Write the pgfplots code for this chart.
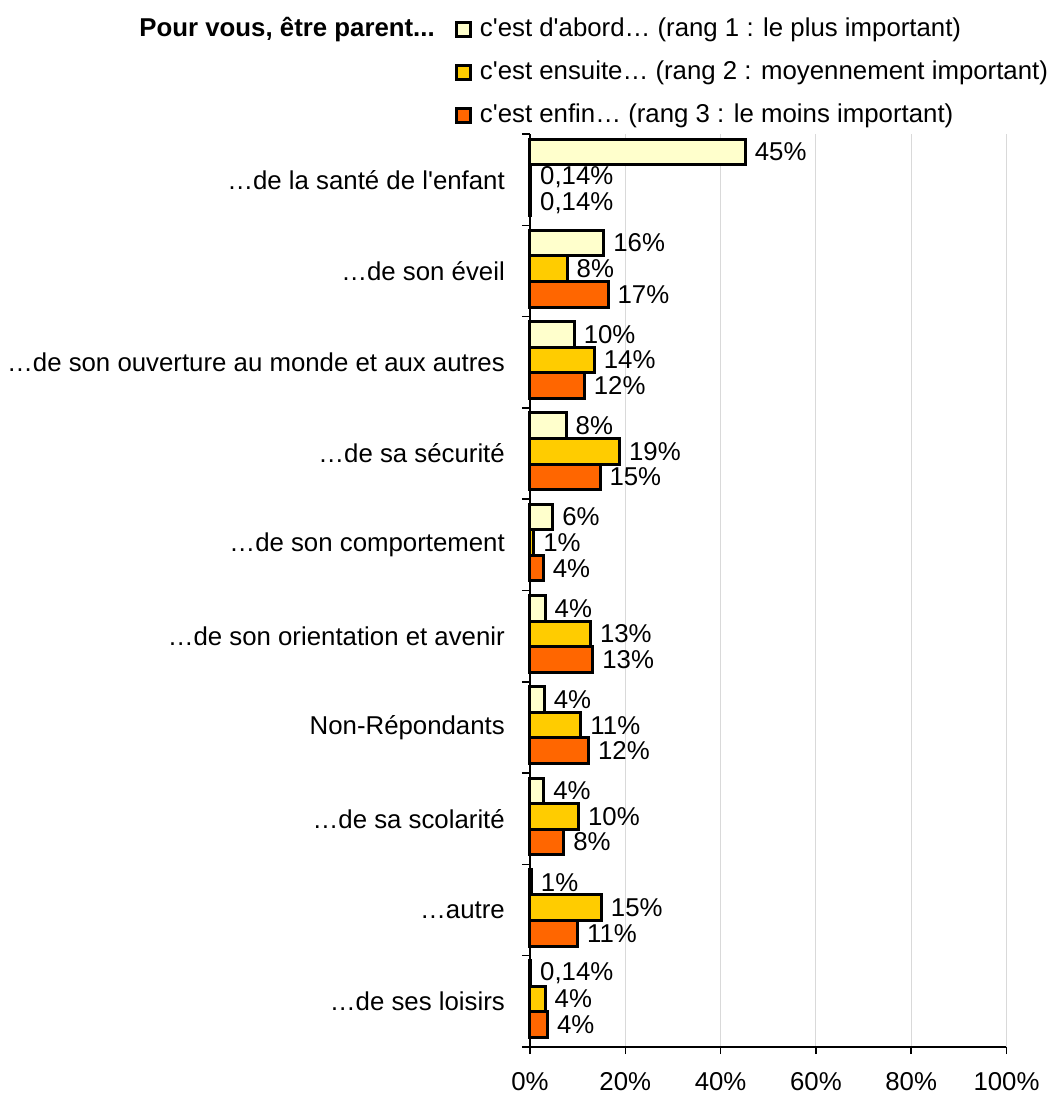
\documentclass[border=0pt]{standalone}
\usepackage{pgfplots}
\pgfplotsset{compat=1.18}
\usepackage{pgfplotstable}
\usepackage{fontspec}
\setmainfont{Liberation Sans}

\definecolor{rangA}{HTML}{FFFFCC}
\definecolor{rangB}{HTML}{FFCC00}
\definecolor{rangC}{HTML}{FF6600}
\definecolor{gridgray}{HTML}{D9D9D9}

% y = 9 for the top category, 0 for the bottom one
\pgfplotstableread{
x y lab
45.2 9 45
15.5 8 16
9.3 7 10
7.6 6 8
4.8 5 6
3.2 4 4
3.0 3 4
2.9 2 4
0.3 1 1
0.14 0 0,14
}\rangA

\pgfplotstableread{
x y lab
0.14 9 0,14
7.8 8 8
13.5 7 14
18.8 6 19
0.8 5 1
12.7 4 13
10.7 3 11
10.2 2 10
15.0 1 15
3.2 0 4
}\rangB

\pgfplotstableread{
x y lab
0.14 9 0,14
16.4 8 17
11.4 7 12
14.7 6 15
2.8 5 4
13.2 4 13
12.3 3 12
7.1 2 8
10.0 1 11
3.7 0 4
}\rangC

\newcommand\q{\textquotesingle}
\newcommand\fs{\fontsize{25.8}{31}\selectfont}

\begin{document}
\fs
\begin{tikzpicture}
\path[use as bounding box] (-530pt,-48pt) rectangle (523pt,1047pt);
\begin{axis}[
    at={(0,0)}, anchor=south west,
    scale only axis,
    width=476.5pt, height=913pt,
    xbar, bar width=0.28,
    xmin=0, xmax=100,
    ymin=-0.5, ymax=9.5,
    axis x line*=bottom, axis y line*=left,
    axis line style={line width=1.8pt, -},
    xtick={0,20,40,60,80,100},
    xticklabels={0\%,20\%,40\%,60\%,80\%,100\%},
    x tick style={line width=1.5pt, black},
    major tick length=7pt,
    tick align=outside,
    xmajorgrids=true,
    grid style={gridgray, line width=0.8pt},
    xticklabel style={font=\fs, yshift=-10pt},
    ytick={9,8,7,6,5,4,3,2,1,0},
    yticklabels={…de la santé de l\q enfant, …de son éveil,
        …de son ouverture au monde et aux autres, …de sa sécurité,
        …de son comportement, …de son orientation et avenir,
        Non-Répondants\ , …de sa scolarité, …autre, …de ses loisirs},
    y tick style={draw=none},
    yticklabel style={font=\fs, inner sep=0pt, xshift=-18pt},
    extra y ticks={-0.5,0.5,1.5,2.5,3.5,4.5,5.5,6.5,7.5,8.5,9.5},
    extra y tick labels={},
    extra y tick style={y tick style={draw=black, line width=1.5pt}, major tick length=8pt},
    point meta=explicit symbolic,
    nodes near coords={\pgfplotspointmeta\%},
    nodes near coords style={font=\fs, anchor=west, inner sep=0pt, xshift=8pt, black},
    every axis plot/.append style={draw=black, line width=3pt},
    legend image code/.code={\draw[#1, line width=3pt] (0pt,-6pt) rectangle (14pt,8pt);},
    legend style={draw=none, fill=none, inner sep=0pt, outer sep=0pt,
        at={(axis description cs:-0.1574,1.1257)}, anchor=north west,
        font=\fs, row sep=21pt,
        nodes={inner sep=0pt, text height=17pt, text depth=5pt},
        /tikz/every odd column/.style={column sep=8pt}},
    legend cell align=left,
    clip=false,
]
\addplot[fill=rangA, bar shift=0.305] table[x=x, y=y, meta=lab] {\rangA};
\addlegendentry{c\q est d\q abord… (rang 1 : le plus important)}
\addplot[fill=rangB, bar shift=0.025] table[x=x, y=y, meta=lab] {\rangB};
\addlegendentry{c\q est ensuite… (rang 2 : moyennement important)}
\addplot[fill=rangC, bar shift=-0.255] table[x=x, y=y, meta=lab] {\rangC};
\addlegendentry{c\q est enfin… (rang 3 : le moins important)}
\node[anchor=base east, inner sep=0pt, font=\fs\bfseries]
    at (axis description cs:-0.1994,1.1068) {Pour vous, être parent...};
\end{axis}
\end{tikzpicture}
\end{document}
